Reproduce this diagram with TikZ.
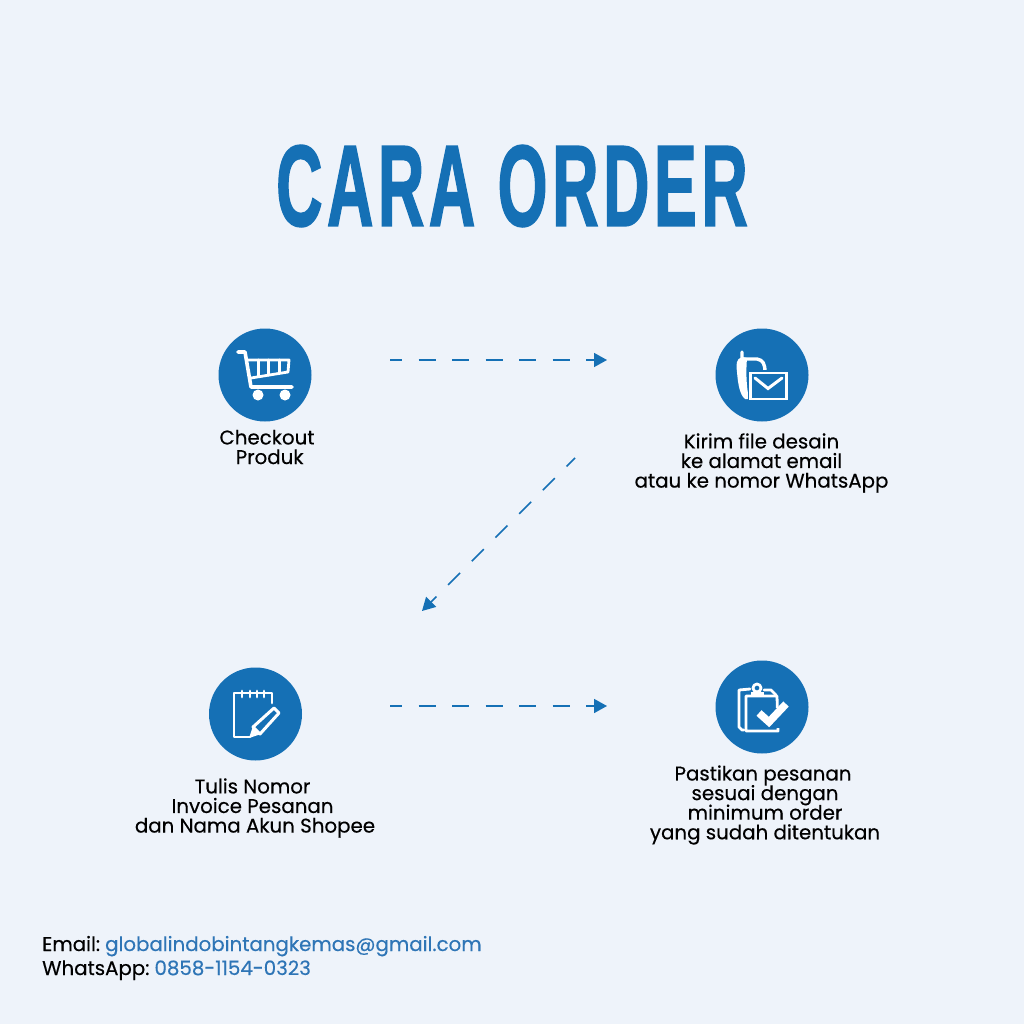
\documentclass[tikz,border=0pt]{standalone}
\usepackage{fontspec}
\setmainfont[FakeBold=0.35]{Poppins}
\newfontfamily\titlefont[LetterSpace=7,BoldFeatures={FakeBold=1.8}]{Liberation Sans}
\usepackage{xcolor}
\usetikzlibrary{arrows.meta,positioning}
\definecolor{bgpage}{HTML}{EEF3FA}
\definecolor{bluecara}{HTML}{1570B5}
\definecolor{bluelink}{HTML}{2E75B6}
\setlength{\lineskiplimit}{-10pt}
\setlength{\normallineskiplimit}{-10pt}

\begin{document}
\begin{tikzpicture}[
    x=1pt, y=-1pt,
    font=\fontsize{19.8}{19.6}\selectfont,
    stepcircle/.style={
		circle,
		fill=bluecara,
		minimum size=93pt,
		inner sep=0pt
	},
	steplabel/.style={
		align=center,
		inner sep=0pt,
		text=black
	},
	footline/.style={
		anchor=base west,
		inner sep=0pt
	},
	flow/.style={
		draw=bluecara,
		line width=1.6pt,
		dash pattern=on 17pt off 16.5pt,
		dash phase=5pt,
		-{Triangle[length=13pt,width=14pt]}
	},
	icon/.style={
		draw=white,
		line width=2.8pt,
		line join=round,
		line cap=round
	}
  ]
    % background and title
  \fill [bgpage] (0,0) rectangle (1024,1024);
  \node [font=\titlefont\bfseries\fontsize{115}{115}\selectfont, text=bluecara, xscale=0.559, inner sep=0pt] (title) at (512,186) {CARA ORDER};

    % the four steps
  \node [stepcircle] (checkout) at (265,375) {};
  \node [stepcircle] (kirim) at (762,375) {};
  \node [stepcircle] (tulis) at (255.5,714) {};
  \node [stepcircle] (pastikan) at (762,707) {};

  \node [steplabel] (checkoutlabel) at (267,447) {Checkout\\ \ Produk};
  \node [steplabel] (kirimlabel) at (761.5,463) {Kirim file desain\\ke alamat email\\atau ke nomor WhatsApp};
  \node [steplabel] (tulislabel) at (255,808) {\hspace*{-5pt}Tulis Nomor\\\hspace*{-5pt}Invoice Pesanan\\dan Nama Akun Shopee};
  \node [steplabel] (pastikanlabel) at (765,805) {\hspace*{-4pt}Pastikan pesanan\\sesuai dengan\\minimum order\\yang sudah ditentukan};

    % connectors
  \coordinate (a1) at (390,360);
  \coordinate (a2) at (607,360);
  \coordinate (b1) at (575,458);
  \coordinate (b2) at (422,611);
  \coordinate (c1) at (390,706);
  \coordinate (c2) at (607,706);
  \draw [flow] (a1) -- (a2);
  \draw [flow] (b1) -- (b2);
  \draw [flow] (c1) -- (c2);

    % cart
  \draw [icon, line width=3.6pt] (238,352) -- (245,352) -- (251,387) -- (292,387);
  \draw [icon] (248,360) -- (289,360) -- (288,372) -- (251,378);
  \draw [icon, line width=3pt] (258,360) -- (258,376);
  \draw [icon, line width=3pt] (268,360) -- (268,375);
  \draw [icon, line width=3pt] (279,360) -- (279,373);
  \fill [white] (258,395) circle (5.5);
  \fill [white] (285,395) circle (5.5);

    % phone and envelope
  \draw [icon, line width=3.4pt] (742,352) -- (742,359) -- (757,359) .. controls (763,360) and (765,364) .. (765,372);
  \fill [white] (742,357) .. controls (736,359) and (736,364) .. (737,372) .. controls (738,385) and (740,395) .. (745,399) -- (749,399) .. controls (746,385) and (746,370) .. (747,358) -- cycle;
  \fill [bluecara] (748,370) rectangle (789,402);
  \draw [icon, line cap=butt, line join=miter] (750.5,373) rectangle (786.5,399);
  \draw [icon, line width=3pt, line join=miter] (755,378) -- (768,388.5) -- (782,378);

    % note and pencil
  \draw [icon] (250,737) -- (234,737) -- (234,693) -- (272,693) -- (272,703);
  \foreach \i in {242,250,257,264}
    \draw [icon] (\i,691) -- (\i,697);
  \draw [icon, line width=3pt] (253,727) -- (274,708) -- (279,713) -- (260,734) -- cycle;
  \fill [white] (249,738) -- (253,726) -- (261,734) -- cycle;

    % clipboard and tick
  \draw [icon] (744,730) -- (742,730) -- (739,727) -- (739,690) -- (750,689);
  \draw [icon] (764,690) -- (771,690) -- (776,695);
  \draw [icon] (746,696) -- (777,696) -- (778,731) -- (746,731) -- cycle;
  \draw [icon] (757,688) circle (4);
  \draw [icon, line width=4pt, line cap=butt] (751,694) -- (764,694);
  \fill [bluecara] (752,708) rectangle (790,728);
  \draw [icon, line width=7.5pt, line cap=butt, line join=miter] (759,713) -- (769,722) -- (786,704);

    % footer
  \node [footline] (email) at (42,951) {Email:\hspace{-2pt} \textcolor{bluelink}{globalindobintangkemas@gmail.com}};
  \node [footline] (whatsapp) at (42,975) {WhatsApp:\hspace{-2pt} \textcolor{bluelink}{0858-1154-0323}};

\end{tikzpicture}
\end{document}
